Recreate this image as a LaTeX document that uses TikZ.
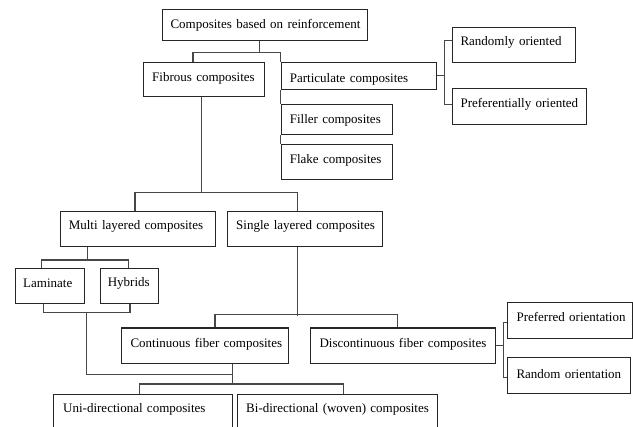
\documentclass[tikz,border=0pt]{standalone}
\usepackage{fontspec}
\setmainfont{Liberation Serif}
\begin{document}
\begin{tikzpicture}[x=1pt,y=-1pt,
  box/.style={draw=black!85, line width=1.05pt, anchor=north west, inner xsep=0pt, inner ysep=0pt,
    align=left, font=\fontsize{13}{15}\selectfont},
  conn/.style={draw=black!72, line width=1.05pt}]
\path[use as bounding box, fill=white] (0,0) rectangle (633,427);
\clip (0,0) rectangle (633,427);

% boxes
\node[box, text width=205.3pt, text height=19pt, text depth=11.7pt] (top) at (162,9.3) {\hspace*{8pt}\mbox{Composites based on reinforcement}};
\node[box, text width=121pt, text height=19.3pt, text depth=14.7pt] (fib) at (143,61.7) {\hspace*{8.7pt}\mbox{Fibrous composites}};
\node[box, text width=155.3pt, text height=20pt, text depth=7.3pt] (part) at (280.7,61.7) {\hspace*{8.6pt}\mbox{Particulate composites}};
\node[box, text width=111.6pt, text height=18.3pt, text depth=11.7pt] (filler) at (280.7,104.3) {\hspace*{8.6pt}\mbox{Filler composites}};
\node[box, text width=111pt, text height=18.7pt, text depth=16.6pt] (flake) at (280.7,144) {\hspace*{8.6pt}\mbox{Flake composites}};
\node[box, text width=122.7pt, text height=18.3pt, text depth=16.7pt] (randa) at (452.3,26.7) {\hspace*{7.7pt}\mbox{Randomly oriented}};
\node[box, text width=133.7pt, text height=18.4pt, text depth=17.6pt] (prefa) at (452.3,88.3) {\hspace*{7.7pt}\mbox{Preferentially oriented}};
\node[box, text width=155pt, text height=18.7pt, text depth=16.6pt] (multi) at (60,210.7) {\hspace*{8.3pt}\mbox{Multi layered composites}};
\node[box, text width=155.6pt, text height=18.7pt, text depth=16.6pt] (single) at (226.7,210.7) {\hspace*{9pt}\mbox{Single layered composites}};
\node[box, text width=69.3pt, text height=19pt, text depth=16pt] (lam) at (15,267.7) {\hspace*{7.7pt}\mbox{Laminate}};
\node[box, text width=57.7pt, text height=18.3pt, text depth=16.7pt] (hyb) at (100,267.7) {\hspace*{7.3pt}\mbox{Hybrids}};
\node[box, text width=167.3pt, text height=19.2pt, text depth=16.6pt] (cont) at (121,327.5) {\hspace*{9pt}\mbox{Continuous fiber composites}};
\node[box, text width=185pt, text height=19.2pt, text depth=16.6pt] (disc) at (310,327.5) {\hspace*{9pt}\mbox{Discontinuous fiber composites}};
\node[box, text width=125.6pt, text height=18.4pt, text depth=17.6pt] (prefb) at (506.7,302.3) {\hspace*{9.3pt}\mbox{Preferred orientation}};
\node[box, text width=123.3pt, text height=21pt, text depth=15pt] (randb) at (506.7,357.3) {\hspace*{9.3pt}\mbox{Random orientation}};
\node[box, text width=179pt, text height=17.7pt, text depth=25pt] (uni) at (53.3,394) {\hspace*{9.4pt}\mbox{Uni-directional composites}};
\node[box, text width=199.4pt, text height=17.7pt, text depth=25pt] (bi) at (237.3,394) {\hspace*{8.4pt}\mbox{Bi-directional (woven) composites}};

% connectors
\draw[conn] ([xshift=97.3pt]top.south west) -- ++(0,12.3);
\draw[conn] ([xshift=50pt]fib.north west) -- ++(0,-9.4) -| (part.north west);
\draw[conn] (part.south west) -- (filler.north west);
\draw[conn] (filler.south west) -- (flake.north west);
\draw[conn] (part.east) -- ++(7.3,0);
\draw[conn] ([yshift=4.2pt]randa.west) -| ([xshift=7.3pt]part.east) |- ([yshift=2.3pt]prefa.west);

\draw[conn] ([xshift=58.7pt]fib.south west) -- ++(0,96.6);
\draw[conn] ([xshift=75pt]multi.north west) -- ++(0,-18.4) -| ([xshift=71pt]single.north west);

\draw[conn] ([xshift=27.7pt]multi.south west) -- ++(0,14);
\draw[conn] ([xshift=26.7pt]lam.north west) -- ++(0,-7.7) -| ([xshift=28.3pt]hyb.north west);
\draw[conn] ([xshift=28.3pt]lam.south west) -- ++(0,8.3) coordinate (jl) -| ([xshift=30pt]hyb.south west);
\draw[conn] (jl) ++(43.4,0) -- ++(0,62.3) -| ([xshift=111.3pt]cont.south west);

\draw[conn] ([xshift=71pt]single.south west) -- ++(0,68.7);
\draw[conn] ([xshift=94pt]cont.north west) -- ++(0,-12.8) -| ([xshift=87.7pt]disc.north west);

\draw[conn] ([xshift=111.3pt]cont.south west) -- ++(0,21);
\draw[conn] ([xshift=86pt]uni.north west) -- ++(0,-10) -| ([xshift=106pt]bi.north west);

\draw[conn] (disc.east) -- ++(7.3,0);
\draw[conn] ([yshift=-1.4pt]prefb.west) -| ([xshift=7.3pt]disc.east) |- ([yshift=-1.4pt]randb.west);
\end{tikzpicture}
\end{document}
